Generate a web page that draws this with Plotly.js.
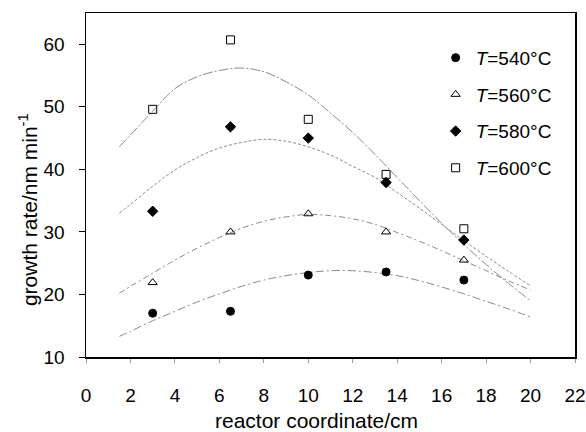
<!DOCTYPE html>
<html>
<head>
<meta charset="utf-8">
<script src="https://cdn.plot.ly/plotly-3.0.1.min.js"></script>
<style>html,body{margin:0;padding:0;background:#fff;}#chart{width:586px;height:432px;}</style>
</head>
<body>
<div id="chart"></div>
<script>
// Measured points
const positions = [3, 6.5, 10, 13.5, 17];
const rate540 = [17.0, 17.3, 23.1, 23.6, 22.3];
const rate560 = [21.9, 30.0, 32.9, 30.0, 25.5];
const rate580 = [33.3, 46.8, 45.0, 37.9, 28.7];
const rate600 = [49.6, 60.7, 48.0, 39.2, 30.5];

// Fitted curves
const fitX = [1.5, 2, 3, 4, 5, 6, 7, 8, 9, 10, 11, 12, 13, 14, 15, 16, 17, 18, 19, 20];
const fit540 = [13.3, 14.1, 15.8, 17.3, 18.8, 20.1, 21.3, 22.3, 23.0, 23.5, 23.8, 23.8, 23.5, 23.0, 22.2, 21.2, 20.1, 18.9, 17.7, 16.4];
const fit560 = [20.2, 21.3, 23.4, 25.5, 27.4, 29.1, 30.6, 31.7, 32.4, 32.8, 32.6, 32.1, 31.2, 29.9, 28.5, 27.0, 25.4, 23.8, 22.2, 20.7];
const fit580 = [33.0, 34.4, 37.3, 39.9, 41.9, 43.4, 44.3, 44.8, 44.5, 43.6, 42.3, 40.5, 38.7, 36.3, 33.8, 31.2, 28.6, 26.1, 23.7, 21.4];
const fit600 = [43.6, 45.5, 49.3, 52.9, 54.8, 55.8, 56.2, 55.6, 54.0, 51.9, 49.0, 45.9, 42.4, 38.7, 35.0, 31.4, 28.0, 24.8, 21.8, 19.0];

const seriesNames = ['<i>T</i>=540°C', '<i>T</i>=560°C', '<i>T</i>=580°C', '<i>T</i>=600°C'];
const xTicks = [0, 2, 4, 6, 8, 10, 12, 14, 16, 18, 20, 22];
const yTicks = [10, 20, 30, 40, 50, 60];

const FONT = 'Liberation Sans, Arial, Helvetica, sans-serif';

const fits = [fit540, fit560, fit580, fit600];
const dashes = ['8px,3px,2px,3px', '6px,3px,2px,3px', '3px,2px', '10px,2px,2px,2px'];
const rates = [rate540, rate560, rate580, rate600];
const symbols = ['circle', 'triangle-up-open', 'diamond', 'square-open'];
const sizes = [8, 8, 8, 8];

const data = [];
fits.forEach((f, i) => {
  data.push({
    x: fitX, y: f, type: 'scatter', mode: 'lines',
    line: {color: '#8a8a8a', width: 1, dash: dashes[i], shape: 'spline'},
    showlegend: false, hoverinfo: 'skip'
  });
});
rates.forEach((r, i) => {
  data.push({
    x: positions, y: r, type: 'scatter', mode: 'markers',
    name: seriesNames[i], legendgroup: 'g' + i,
    marker: {symbol: symbols[i], size: sizes[i], color: '#000', line: {color: '#000', width: 1}}
  });
});

const layout = {
  width: 586, height: 432,
  margin: {l: 86, r: 11, t: 13, b: 75},
  paper_bgcolor: '#fff', plot_bgcolor: '#fff',
  font: {family: FONT, color: '#000', size: 19},
  showlegend: true,
  legend: {
    x: 0.715, y: 0.925, xanchor: 'left', yanchor: 'top',
    bgcolor: 'rgba(0,0,0,0)', borderwidth: 0,
    font: {family: FONT, size: 19, color: '#000'},
    traceorder: 'grouped', tracegroupgap: 9, itemwidth: 30
  },
  xaxis: {
    range: [0, 22], tickvals: xTicks, ticktext: xTicks.map(String),
    showgrid: false, zeroline: false,
    showline: true, mirror: true, linecolor: '#000', linewidth: 1.5,
    ticks: 'outside', ticklen: 4, tickcolor: '#999', tickwidth: 1,
    ticklabelstandoff: 17,
    tickfont: {family: FONT, size: 19, color: '#000'}
  },
  yaxis: {
    range: [10, 65], tickvals: yTicks, ticktext: yTicks.map(String),
    showgrid: false, zeroline: false,
    showline: true, mirror: true, linecolor: '#000', linewidth: 1.5,
    ticks: 'outside', ticklen: 6, tickcolor: '#000', tickwidth: 1,
    ticklabelstandoff: 10,
    tickfont: {family: FONT, size: 19, color: '#000'}
  },
  annotations: [
    {text: 'reactor coordinate/cm', xref: 'paper', yref: 'paper', x: 0.471, y: -0.186,
     xanchor: 'center', yanchor: 'middle', showarrow: false,
     font: {family: FONT, size: 21, color: '#000'}},
    {text: 'growth rate/nm min<sup>-1</sup>', xref: 'paper', yref: 'paper', x: -0.1186, y: 0.427,
     xanchor: 'center', yanchor: 'middle', showarrow: false, textangle: -90,
     font: {family: FONT, size: 21, color: '#000'}}
  ]
};

Plotly.newPlot('chart', data, layout, {displayModeBar: false, staticPlot: true});
</script>
</body>
</html>
